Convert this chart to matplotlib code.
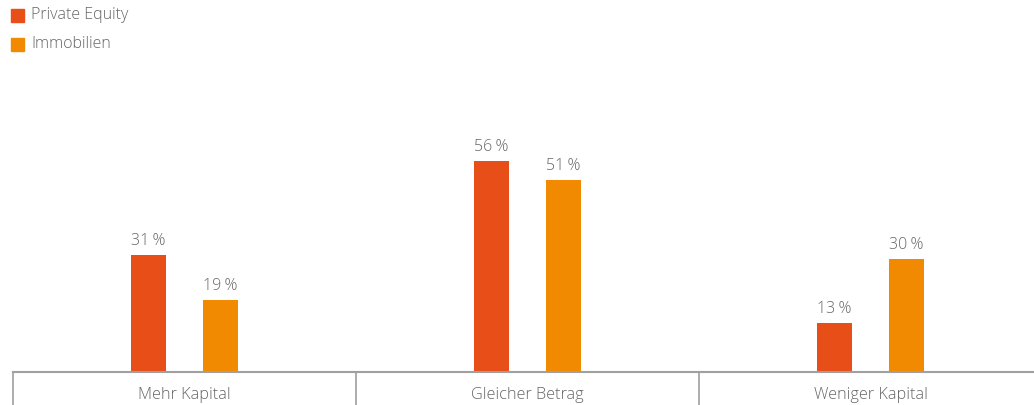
import matplotlib.pyplot as plt
import numpy as np

categories = ["Mehr Kapital", "Gleicher Betrag", "Weniger Kapital"]
series_names = ["Private Equity", "Immobilien"]
private_equity = [31, 56, 13]
immobilien = [19, 51, 30]
colors = ["#E84E17", "#F18A00"]

text_color = "#666666"
plt.rcParams['font.family'] = ['Open Sans', 'DejaVu Sans']
plt.rcParams['font.weight'] = 'light'

fig = plt.figure(figsize=(10.34, 4.05), dpi=100)
W, H = 1034, 405
cat_px = 343
ax = fig.add_axes([13 / W, (H - 372) / H, 3 * cat_px / W, 226 / H])

x = np.arange(len(categories)) + 0.5
width = 35 / cat_px
offset = 36 / cat_px
for vals, name, col, dx in [(private_equity, series_names[0], colors[0], -offset),
                            (immobilien, series_names[1], colors[1], offset)]:
    bars = ax.bar(x + dx, vals, width=width, color=col, label=name)
    for b, v in zip(bars, vals):
        ax.text(b.get_x() + b.get_width() / 2, v + 1.6, f"{v}\u2009%",
                ha="center", va="bottom", fontsize=11.5, color=text_color)

ax.set_xlim(0, 3)
ax.set_ylim(0, 60)
ax.set_yticks([])
for s in ["left", "right", "top"]:
    ax.spines[s].set_visible(False)
ax.spines["bottom"].set_color("#a0a0a0")
ax.spines["bottom"].set_linewidth(1.5)

ax.set_xticks([0, 1, 2, 3])
ax.set_xticklabels([])
ax.tick_params(axis="x", which="major", length=24, width=1.2, color="#a0a0a0", direction="out")
ax.set_xticks(x, minor=True)
ax.set_xticklabels(categories, minor=True)
ax.tick_params(axis="x", which="minor", length=0, pad=11, labelsize=11.7, labelcolor=text_color)

# legend
for i, (name, col) in enumerate(zip(series_names, colors)):
    y = 15 + i * 29
    fig.patches.append(plt.Rectangle((11 / W, (H - y - 7) / H), 13 / W, 13 / H,
                                     transform=fig.transFigure, color=col))
    fig.text(31 / W, (H - y) / H, name, va="center", ha="left",
             fontsize=11.5, color=text_color)

fig.savefig("out.png", dpi=100)
